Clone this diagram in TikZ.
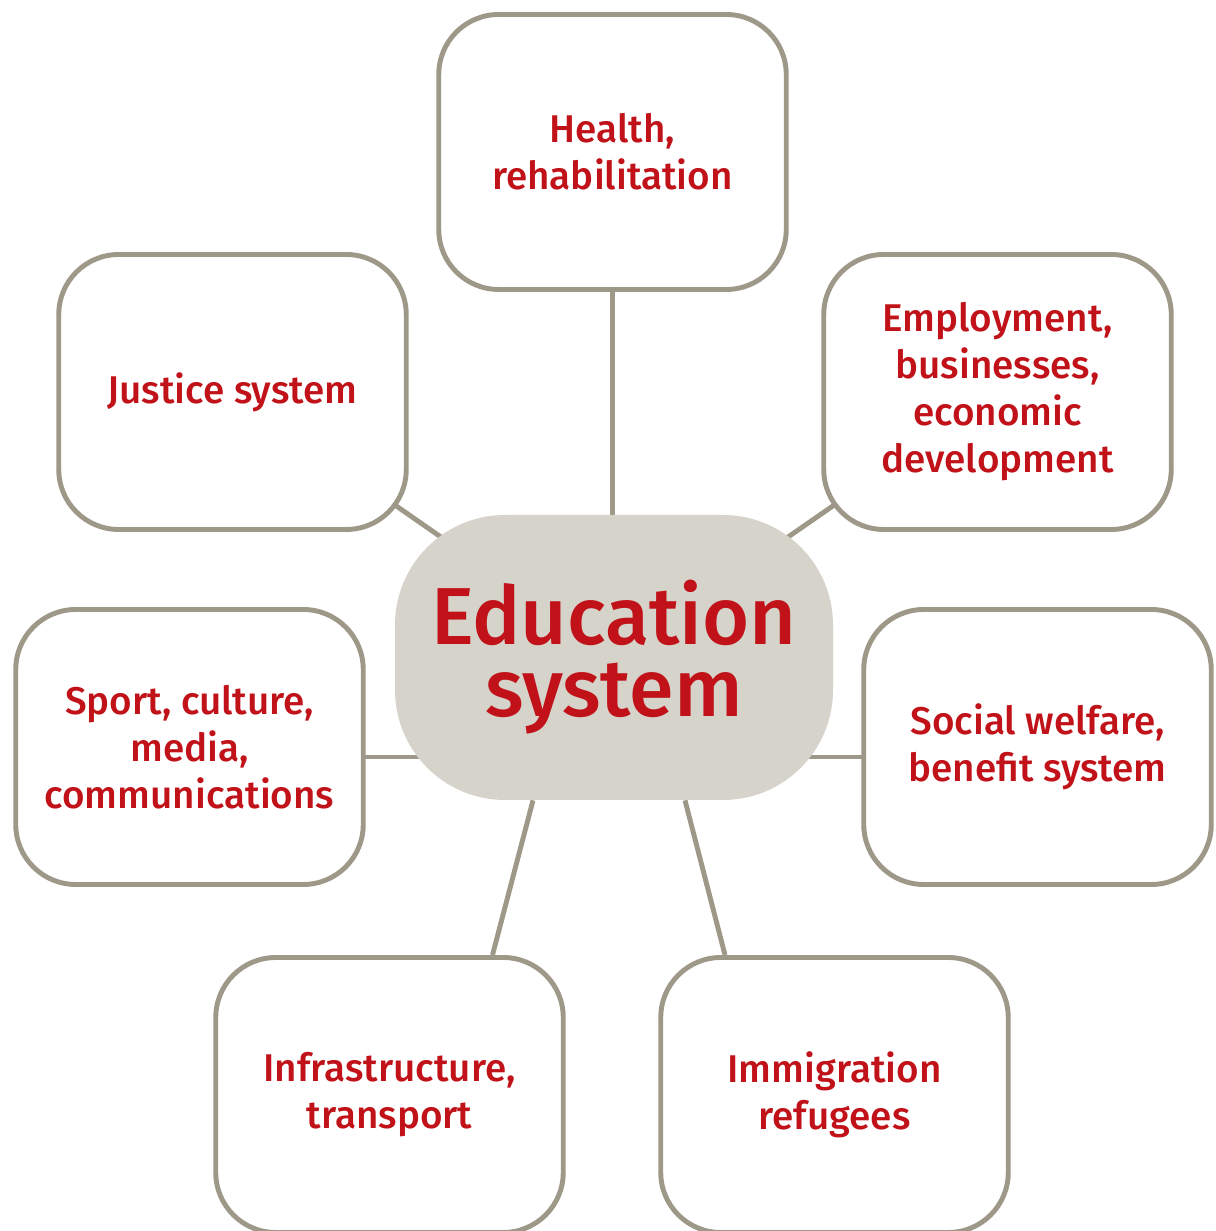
\documentclass[tikz,border=0pt]{standalone}
\usepackage{fontspec}
\setmainfont{Fira Sans}[UprightFont={* Medium}]
\usetikzlibrary{backgrounds}
\definecolor{framegray}{RGB}{158,152,136}
\definecolor{hubfill}{RGB}{214,211,203}
\definecolor{textred}{RGB}{192,18,24}

\begin{document}
\begin{tikzpicture}[
  box/.style={draw=framegray,line width=2.8pt,rounded corners=1.2cm,fill=white,
    minimum width=6.95cm,minimum height=5.5cm,align=center,text=textred,
    font=\fontsize{22}{26.7}\selectfont},
  hub/.style={fill=hubfill,rounded corners=2.2cm,minimum width=8.76cm,
    minimum height=5.7cm,align=center,text=textred,
    font=\fontsize{46}{41}\selectfont},
  link/.style={draw=framegray,line width=2.8pt}
]
\useasboundingbox (0,0) rectangle (24.3,24.62);

\node[box] (health) at (12.25,21.58) {Health,\\rehabilitation};
\node[box] (justice) at (4.65,16.78) {Justice system};
\node[box] (employ) at (19.95,16.78) {Employment,\\businesses,\\economic\\development};
\node[box] (sport) at (3.79,9.68) {Sport, culture,\\media,\\communications};
\node[box] (welfare) at (20.75,9.68) {Social welfare,\\benefit system};
\node[box] (infra) at (7.79,2.72) {Infrastructure,\\transport};
\node[box] (immig) at (16.69,2.72) {Immigration\\refugees};
\node[hub] (edu) at (12.28,11.47) {Education\\system};

\begin{scope}[on background layer]
  \draw[link] (health.center) -- (health.center |- edu.center);
  \draw[link] (justice.center) -- (edu.center);
  \draw[link] (employ.center) -- (edu.center);
  \draw[link] ([yshift=-0.2cm]sport.center) -- ([yshift=-0.2cm]sport.center -| edu.center);
  \draw[link] ([yshift=-0.2cm]welfare.center) -- ([yshift=-0.2cm]welfare.center -| edu.center);
  \draw[link] ([xshift=2.06cm]infra.north) -- ([xshift=-1.62cm]edu.south);
  \draw[link] ([xshift=-2.19cm]immig.north) -- ([xshift=1.42cm]edu.south);
\end{scope}
\end{tikzpicture}
\end{document}
